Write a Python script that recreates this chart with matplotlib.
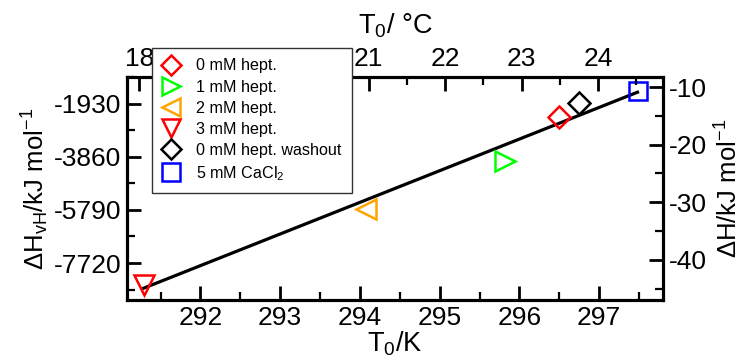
import matplotlib
matplotlib.use("Agg")
import matplotlib.pyplot as plt
from matplotlib.ticker import MultipleLocator

plt.rcParams["font.family"] = ["Liberation Sans", "DejaVu Sans"]
plt.rcParams["mathtext.fontset"] = "custom"
plt.rcParams["mathtext.rm"] = "Liberation Sans"
plt.rcParams["mathtext.it"] = "Liberation Sans:italic"
plt.rcParams["mathtext.default"] = "regular"
plt.rcParams["axes.unicode_minus"] = False

# data
labels = ["0 mM hept.", "1 mM hept.", "2 mM hept.", "3 mM hept.",
          "0 mM hept. washout", r"5 mM CaCl$_2$"]
T0_K = [296.50, 295.82, 294.08, 291.29, 296.75, 297.49]
dH = [-15.2, -22.9, -31.2, -44.3, -12.8, -10.7]          # kJ/mol
markers = ["D", ">", "<", "v", "D", "s"]
colors = ["#ff0000", "#00ff00", "#ffa500", "#ff0000", "#000000", "#0000ff"]
sizes = [11, 14, 14, 14, 11, 13]

fit_T = [291.29, 297.48]
fit_dH = [-44.9, -10.9]

xlim_K = (291.08, 297.80)
xlim_C = (17.84, 24.85)
ylim_dH = (-46.96, -8.26)
vh_factor = 193.0  # dH_vH / dH
vh_ticks = [-1930, -3860, -5790, -7720]

fig = plt.figure(figsize=(7.46, 3.62), dpi=100)
ax = fig.add_axes([127 / 746, 1 - 300 / 362, (663 - 127) / 746, (300 - 77) / 362])

ax.plot(fit_T, fit_dH, color="black", lw=2.3, zorder=2)
handles = []
for t, h, m, c, s, lab in zip(T0_K, dH, markers, colors, sizes, labels):
    hnd, = ax.plot([t], [h], linestyle="none", marker=m, ms=s, mfc="none",
                   mec=c, mew=1.8, label=lab, zorder=3)
    handles.append(hnd)

ax.set_xlim(*xlim_K)
ax.set_ylim(*ylim_dH)
ax.xaxis.set_major_locator(MultipleLocator(1))
ax.xaxis.set_minor_locator(MultipleLocator(0.5))
ax.yaxis.set_major_locator(MultipleLocator(10))
ax.yaxis.set_minor_locator(MultipleLocator(5))
ax.set_xlabel(r"T$_0$/K", fontsize=19.5, labelpad=0)

ax_l = ax.twinx()
ax_t = ax.twiny()

ax.yaxis.tick_right()
ax.yaxis.set_label_position("right")
ax.set_ylabel(r"$\Delta$H/kJ mol$^{-1}$", fontsize=18.5, labelpad=6)

ax_l.yaxis.tick_left()
ax_l.yaxis.set_label_position("left")
ax_l.set_ylim(ylim_dH[0] * vh_factor, ylim_dH[1] * vh_factor)
ax_l.set_yticks(vh_ticks)
ax_l.set_yticks([v + 965 for v in vh_ticks] + [vh_ticks[-1] - 965], minor=True)
ax_l.set_ylabel(r"$\Delta$H$_{vH}$/kJ mol$^{-1}$", fontsize=18.5, labelpad=2)

ax_t.set_xlim(*xlim_C)
ax_t.xaxis.set_major_locator(MultipleLocator(1))
ax_t.xaxis.set_minor_locator(MultipleLocator(0.5))
ax_t.set_xlabel(r"T$_0$/ °C", fontsize=19.5, labelpad=10)

for a in (ax, ax_l, ax_t):
    for sp in a.spines.values():
        sp.set_linewidth(2.2)
    a.tick_params(which="major", direction="in", length=10, width=2, labelsize=19, pad=4)
    a.tick_params(which="minor", direction="in", length=6, width=1.6)
ax.tick_params(axis="x", which="both", top=False)
ax.tick_params(axis="y", which="both", left=False, right=True)
ax_l.tick_params(axis="y", which="both", left=True, right=False)
ax_t.tick_params(axis="x", which="both", bottom=False, top=True)

fig.legend(handles=handles, loc="upper left", bbox_to_anchor=(152 / 746, 1 - 48 / 362),
           fontsize=11.6, frameon=True, fancybox=False, framealpha=1, edgecolor="#333333",
           handlelength=1.1, handletextpad=1.0, labelspacing=0.38, borderpad=0.65,
           borderaxespad=0, numpoints=1, markerscale=0.95)

fig.savefig("out.png", dpi=100)
